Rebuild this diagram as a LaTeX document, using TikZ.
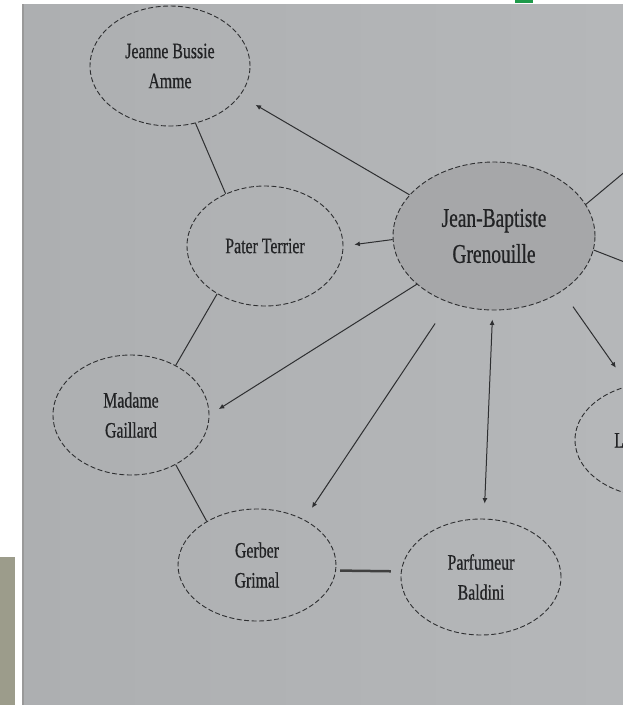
\documentclass[tikz,border=0pt]{standalone}
\usepackage{fontspec}
\newfontfamily\namefont[FakeStretch=0.72,FakeBold=0.6]{Liberation Serif}
\usetikzlibrary{arrows.meta,shapes.geometric}
\definecolor{sheetL}{HTML}{ADAFB1}
\definecolor{sheetR}{HTML}{B5B7B9}
\definecolor{ink}{HTML}{2E2F31}
\definecolor{txt}{HTML}{222325}
\definecolor{hero}{HTML}{A6A7A9}
\definecolor{desk}{HTML}{9C9C8B}
\definecolor{tag}{HTML}{1E9A4A}

\begin{document}
\begin{tikzpicture}[x=1pt,y=-1pt,
		person/.style={ellipse, draw=ink, dash pattern=on 5pt off 2.5pt, line width=0.9pt, inner sep=0pt, align=center, text=txt, font=\namefont\fontsize{22}{30}\selectfont},
		link/.style={draw=ink, line width=1pt},
		tip/.style={-{Latex[length=5.5pt,width=5pt]}}]
			%%%%% START %%%%%
			
			\useasboundingbox (0,0) rectangle (623,705);
			\clip (0,0) rectangle (623,705);
			
			% photo background
			\fill[white] (0,0) rectangle (623,705);
			\shade[left color=sheetL, right color=sheetR] (22,4) rectangle (623,705);
			\draw[line width=2pt, color=black!40] (23,4) -- (23,705);
			\fill[desk] (0,557) rectangle (15,705);
			\fill[tag] (515,0) rectangle (533,3);
			
			% characters
			\node[person, fill=hero, minimum width=202pt, minimum height=148pt, font=\namefont\fontsize{27}{36}\selectfont] (grenouille) at (494,236) {Jean-Baptiste\\Grenouille};
			\node[person, minimum width=160pt, minimum height=120pt] (jeanne) at (170,66) {Jeanne Bussie\\Amme};
			\node[person, minimum width=156pt, minimum height=120pt] (terrier) at (265,246) {Pater Terrier};
			\node[person, minimum width=156pt, minimum height=120pt] (gaillard) at (131,415) {Madame\\Gaillard};
			\node[person, minimum width=158pt, minimum height=112pt] (grimal) at (257,565) {Gerber\\Grimal};
			\node[person, minimum width=160pt, minimum height=116pt] (baldini) at (481,577) {Parfumeur\\Baldini};
			\node[person, minimum width=160pt, minimum height=114pt] (laure) at (655,440) {Laure Richis};
			
			\coordinate (upright) at (645,155);
			\coordinate (farright) at (645,270);
			
			% connectors
			\draw[link, tip, shorten >=18pt] (grenouille.154.6) -- (jeanne.-23.6);
			\draw[link] (jeanne.-66) -- (terrier.127);
			\draw[link, tip, shorten >=11pt] (grenouille.182) -- (terrier.0);
			\draw[link] (terrier.225.5) -- (gaillard.48.5);
			\draw[link, tip, shorten >=11pt] (grenouille.212.4) -- (gaillard.0);
			\draw[link, tip, shorten <=25pt, shorten >=14pt] (grenouille.236.8) -- (grimal.44);
			\draw[link, {Latex[length=5.5pt,width=5pt]}-{Latex[length=5.5pt,width=5pt]}, shorten <=9pt, shorten >=15pt] (grenouille.-91) -- (baldini.87);
			\draw[link] (gaillard.-48.7) -- (grimal.139);
			\draw[link, line width=2.5pt, color=black!75, shorten <=4pt, shorten >=10pt] (grimal.-4) -- (baldini.176);
			\draw[link, tip, shorten <=19pt, shorten >=22pt] (grenouille.-39.3) -- (laure.116.6);
			\draw[link] (grenouille.19.9) -- (upright);
			\draw[link] (grenouille.-8.7) -- (farright);
			
			%%%%% END %%%%%
		\end{tikzpicture}
\end{document}
